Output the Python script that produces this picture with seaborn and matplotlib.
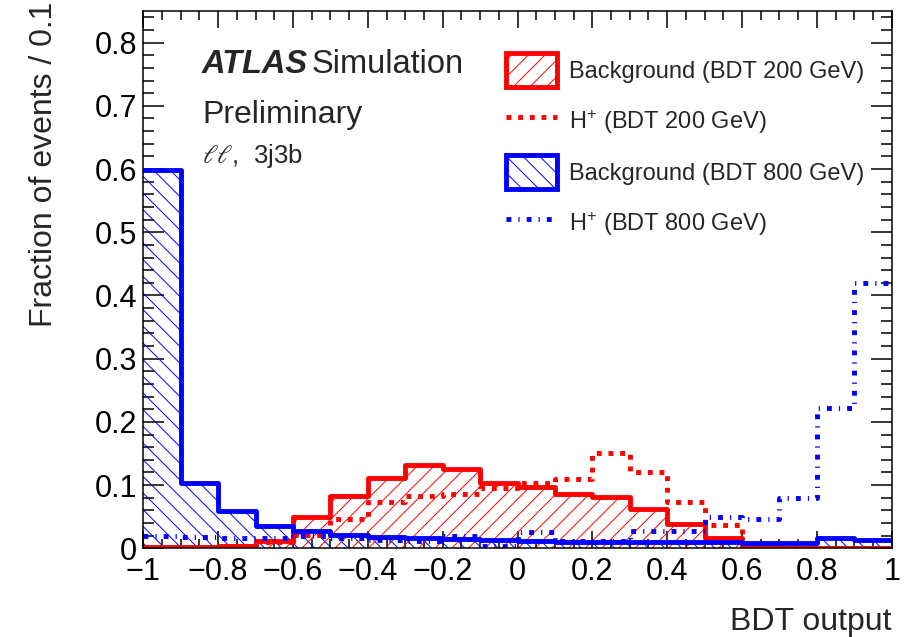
import matplotlib
matplotlib.use("Agg")
import matplotlib.pyplot as plt
import seaborn as sns
from matplotlib.patches import Patch
from matplotlib.lines import Line2D
from matplotlib.ticker import MultipleLocator, FuncFormatter

# ---------------- data ----------------
bin_edges = [round(-1 + 0.1 * i, 1) for i in range(21)]
bin_centers = [round((a + b) / 2, 2) for a, b in zip(bin_edges[:-1], bin_edges[1:])]

bkg_200 = [0.002, 0.002, 0.003, 0.012, 0.050, 0.083, 0.112, 0.132, 0.125, 0.104,
           0.097, 0.086, 0.081, 0.062, 0.038, 0.017, 0.003, 0.001, 0.0005, 0.0003]
hplus_200 = [0.001, 0.001, 0.002, 0.010, 0.021, 0.047, 0.073, 0.083, 0.086, 0.095,
             0.104, 0.109, 0.150, 0.120, 0.074, 0.037, 0.0, 0.0, 0.0, 0.0]
bkg_800 = [0.598, 0.103, 0.059, 0.035, 0.028, 0.021, 0.018, 0.016, 0.014, 0.0125,
           0.0115, 0.0105, 0.0105, 0.0105, 0.010, 0.010, 0.009, 0.008, 0.016, 0.013]
hplus_800 = [0.020, 0.018, 0.017, 0.017, 0.020, 0.016, 0.013, 0.012, 0.020, 0.003,
             0.025, 0.012, 0.011, 0.027, 0.027, 0.049, 0.046, 0.079, 0.222, 0.419]

labels = ["Background (BDT 200 GeV)", "H$^{+}$ (BDT 200 GeV)",
          "Background (BDT 800 GeV)", "H$^{+}$ (BDT 800 GeV)"]

# ---------------- style ----------------
sns.set_style("ticks")
plt.rcParams["font.family"] = ["Liberation Sans", "DejaVu Sans"]
plt.rcParams["mathtext.fontset"] = "custom"
plt.rcParams["mathtext.rm"] = "Liberation Sans"
plt.rcParams["mathtext.it"] = "Liberation Sans:italic"
plt.rcParams["mathtext.bf"] = "Liberation Sans:bold"
plt.rcParams["hatch.linewidth"] = 0.7
plt.rcParams["axes.linewidth"] = 1.1

RED = "#ff0000"
BLUE = "#0000ff"
LW = 3.5
dot_style = (0, (1.0, 1.4))
dashdot_style = (0, (1.0, 1.45, 0.25, 1.45))

fig = plt.figure(figsize=(9.13, 6.37), dpi=100)
W, H = 913, 637
x0, x1, y0, y1 = 143.3, 891.7, 548.3, 11.0
ax = fig.add_axes([x0 / W, 1 - y0 / H, (x1 - x0) / W, (y0 - y1) / H])

# hatched fills
sns.histplot(x=bin_centers, weights=bkg_800, bins=bin_edges, element="step", fill=True,
             color=BLUE, facecolor="none", edgecolor=BLUE, linewidth=0, hatch="\\\\", ax=ax)
sns.histplot(x=bin_centers, weights=bkg_200, bins=bin_edges, element="step", fill=True,
             color=RED, facecolor="none", edgecolor=RED, linewidth=0, hatch="//", ax=ax)

# outlines
sns.histplot(x=bin_centers, weights=bkg_200, bins=bin_edges, element="step", fill=False,
             color=RED, linewidth=LW, ax=ax)
sns.histplot(x=bin_centers, weights=hplus_200, bins=bin_edges, element="step", fill=False,
             color=RED, linewidth=LW, linestyle=dot_style, ax=ax)
sns.histplot(x=bin_centers, weights=bkg_800, bins=bin_edges, element="step", fill=False,
             color=BLUE, linewidth=LW, ax=ax)
sns.histplot(x=bin_centers, weights=hplus_800, bins=bin_edges, element="step", fill=False,
             color=BLUE, linewidth=LW, linestyle=dashdot_style, ax=ax)

# ---------------- axes ----------------
ax.set_xlim(-1, 1)
ax.set_ylim(0, 0.85)
ax.xaxis.set_major_locator(MultipleLocator(0.2))
ax.xaxis.set_minor_locator(MultipleLocator(0.05))
ax.yaxis.set_major_locator(MultipleLocator(0.1))
ax.yaxis.set_minor_locator(MultipleLocator(0.02))


def fmt(v, pos):
    v = round(v, 2)
    if abs(v) < 1e-9:
        return "0"
    return f"{v:g}".replace("-", "\u2212")


ax.xaxis.set_major_formatter(FuncFormatter(fmt))
ax.yaxis.set_major_formatter(FuncFormatter(fmt))
ax.tick_params(which="both", direction="in", top=True, right=True, width=1.1,
               colors="black", labelsize=22)
ax.tick_params(axis="y", which="major", length=15, pad=4.5)
ax.tick_params(axis="y", which="minor", length=8)
ax.tick_params(axis="x", which="major", length=12, pad=6)
ax.tick_params(axis="x", which="minor", length=6.5)
for s in ax.spines.values():
    s.set_visible(True)
    s.set_color("black")

ax.set_ylabel("Fraction of events / 0.1", fontsize=23, loc="top")
ax.yaxis.set_label_coords(-0.112, 1.017)
ax.set_xlabel("BDT output", fontsize=23, loc="right")
ax.xaxis.set_label_coords(1.0, -0.109)

# ---------------- texts ----------------
ax.text(0.0785, 0.884, "ATLAS", fontsize=23.5, fontweight="bold", style="italic",
        transform=ax.transAxes, va="baseline")
ax.text(0.225, 0.884, "Simulation", fontsize=23.5, transform=ax.transAxes, va="baseline")
ax.text(0.0785, 0.792, "Preliminary", fontsize=23, transform=ax.transAxes, va="baseline")
ax.text(0.0785, 0.717, r"$\ell\ell$,  3j3b", fontsize=18.5, math_fontfamily="stix",
        transform=ax.transAxes, va="baseline")

# ---------------- legend ----------------
handles = [
    Patch(facecolor="white", edgecolor=RED, hatch="//", linewidth=LW),
    Line2D([], [], color=RED, lw=LW, linestyle=dot_style),
    Patch(facecolor="white", edgecolor=BLUE, hatch="\\\\", linewidth=LW),
    Line2D([], [], color=BLUE, lw=LW, linestyle=dashdot_style),
]
ax.legend(handles, labels, loc="upper left", bbox_to_anchor=(0.4853, 0.921),
          fontsize=17, frameon=False, handlelength=2.16, handleheight=1.777,
          labelspacing=0.76, handletextpad=0.49, borderpad=0, borderaxespad=0)

fig.savefig("out.png", dpi=100)
